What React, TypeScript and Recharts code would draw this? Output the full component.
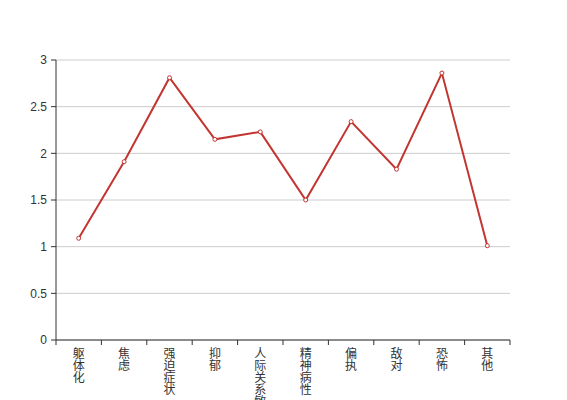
import { LineChart, Line, XAxis, YAxis, CartesianGrid } from "recharts";

const categories = ["躯体化", "焦虑", "强迫症状", "抑郁", "人际关系敏感", "精神病性", "偏执", "敌对", "恐怖", "其他"];
const scores = [1.09, 1.91, 2.81, 2.15, 2.23, 1.5, 2.34, 1.83, 2.86, 1.01];
const yTicks = [0, 0.5, 1, 1.5, 2, 2.5, 3];

const data = categories.map((name, i) => ({ name, value: scores[i] }));

const W = 567;
const H = 400;
const LEFT = 56;
const RIGHT = 510;
const BAND = (RIGHT - LEFT) / categories.length;
const FONT = "'Liberation Sans', 'Noto Sans CJK SC', sans-serif";

const VerticalTick = (props: any) => {
  const { x, y, payload, index } = props;
  const chars = String(payload.value).split("");
  const left = x - BAND / 2;
  return (
    <g>
      <line x1={left} y1={y} x2={left} y2={y + 5} stroke="#333" />
      {index === categories.length - 1 && (
        <line x1={x + BAND / 2} y1={y} x2={x + BAND / 2} y2={y + 5} stroke="#333" />
      )}
      <text x={x} y={y + 18} textAnchor="middle" fontSize={12} fill="#333" fontFamily={FONT}>
        {chars.map((c, i) => (
          <tspan key={i} x={x} dy={i === 0 ? 0 : 12}>
            {c}
          </tspan>
        ))}
      </text>
    </g>
  );
};

export default function App() {
  return (
    <div style={{ position: "absolute", left: 0, top: 0, width: W, height: H, background: "#fff" }}>
      <LineChart width={W} height={H} data={data} margin={{ top: 60, right: W - RIGHT, bottom: 0, left: 0 }}>
        <CartesianGrid vertical={false} stroke="#ccc" />
        <XAxis
          dataKey="name"
          scale="band"
          interval={0}
          height={60}
          tickSize={0}
          tickMargin={0}
          tickLine={false}
          axisLine={{ stroke: "#333" }}
          tick={<VerticalTick />}
        />
        <YAxis
          width={LEFT}
          domain={[0, 3]}
          ticks={yTicks}
          tickSize={5}
          tickMargin={4}
          axisLine={{ stroke: "#333" }}
          tickLine={{ stroke: "#333" }}
          tick={{ fontSize: 12, fill: "#333", fontFamily: FONT }}
        />
        <Line
          type="linear"
          dataKey="value"
          stroke="#c23531"
          strokeWidth={2}
          dot={{ r: 2, stroke: "#c23531", strokeWidth: 1, fill: "#fff" }}
          isAnimationActive={false}
        />
      </LineChart>
    </div>
  );
}
